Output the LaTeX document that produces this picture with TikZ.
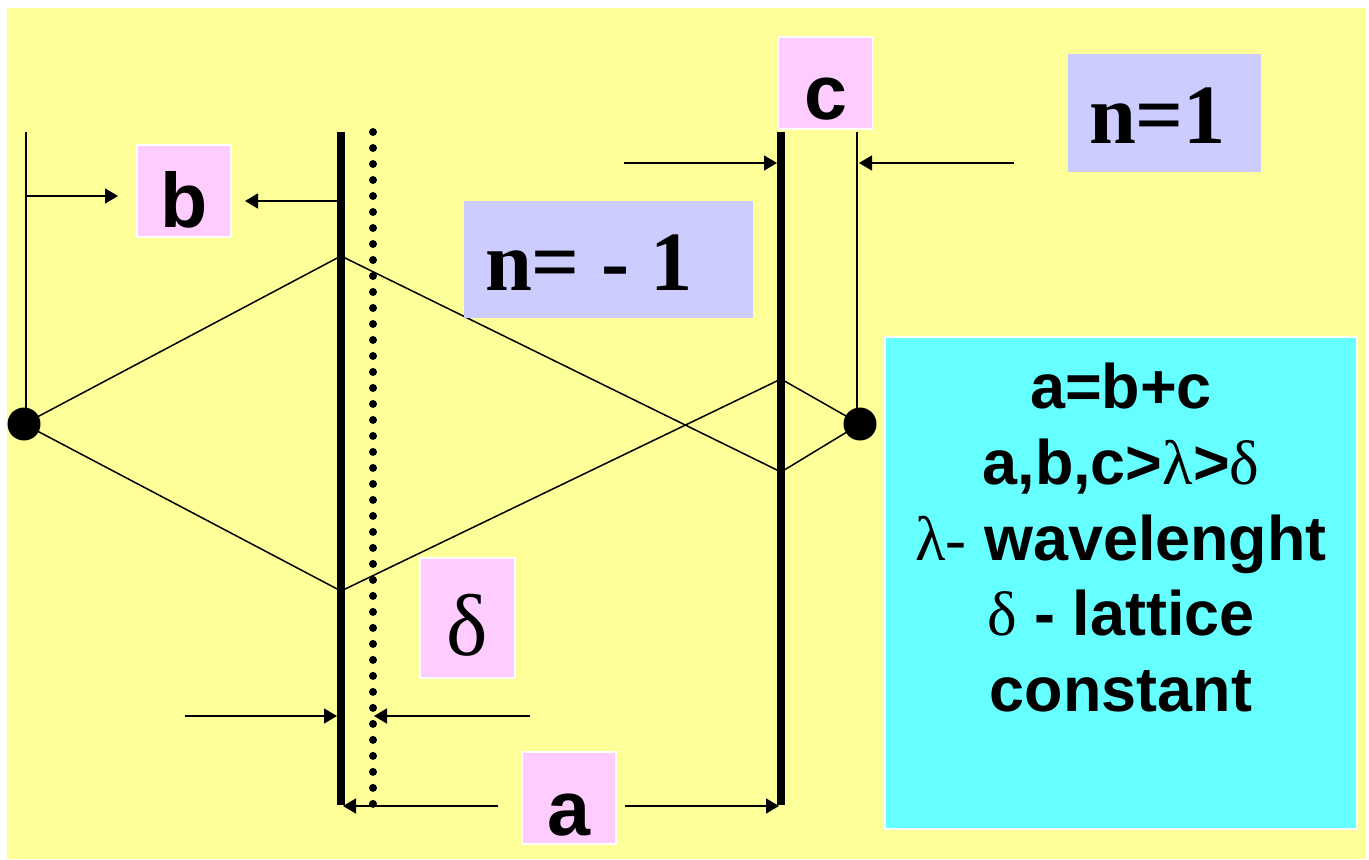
\documentclass[tikz,border=0pt]{standalone}
\usepackage{fontspec}
\setmainfont{Liberation Serif}
\newfontfamily\arial{Liberation Sans}
\usetikzlibrary{arrows.meta}

\definecolor{bgyellow}{HTML}{FFFF99}
\definecolor{boxpink}{HTML}{FFCCFF}
\definecolor{boxblue}{HTML}{CCCCFF}
\definecolor{boxcyan}{HTML}{66FFFF}

\begin{document}
\begin{tikzpicture}[x=0.02cm,y=-0.02cm,>={Triangle[length=0.26cm,width=0.3cm]},
    thin line/.style={line width=0.03cm},
    grating/.style={line width=0.16cm},
    lattice/.style={line width=0.16cm,line cap=round,dash pattern=on 0pt off 0.32cm},
    srcdot/.style={circle,fill=black,minimum size=0.66cm,inner sep=0pt},
    letterbox/.style={fill=boxpink,draw=white,line width=0.03cm,inner sep=0pt,
      minimum width=1.88cm,text height=1.66cm,text depth=0.18cm,
      font=\arial\bfseries\fontsize{44}{50}\selectfont},
    orderbox/.style={fill=boxblue,inner xsep=0.42cm,inner ysep=0pt,align=left,
      text height=1.8cm,text depth=0.56cm,font=\bfseries\fontsize{48}{54}\selectfont},
    infobox/.style={fill=boxcyan,draw=white,line width=0.03cm,
      minimum width=9.44cm,minimum height=9.84cm},
    infotext/.style={align=center,inner sep=0pt,
      font=\arial\bfseries\fontsize{35.8}{43}\selectfont}]
    \useasboundingbox (0,0) rectangle (1369,859);
    \fill[bgyellow] (7,8) rectangle (1366,859);

    % gratings and guide lines
    \coordinate (g1t) at (341,132);  \coordinate (g1b) at (341,805);
    \coordinate (lt)  at (373,132);  \coordinate (lb)  at (373,805);
    \coordinate (g2t) at (781,132);  \coordinate (g2b) at (781,805);
    \coordinate (vL)  at (26,132);   \coordinate (vR)  at (857,132);
    \coordinate (srcL) at (24,424);  \coordinate (srcR) at (860,424);

    % points where the rays meet the gratings
    \coordinate (hA) at (341,256);   \coordinate (hB) at (781,472);
    \coordinate (hC) at (341,591);   \coordinate (hD) at (781,379);

    \draw[grating] (g1t) -- (g1b);
    \draw[grating] (g2t) -- (g2b);
    \draw[lattice] (lt) -- (lb);
    \draw[thin line] (vL) -- (vL |- srcL);
    \draw[thin line] (vR) -- (vR |- srcR);

    \draw[thin line] (srcL) -- (hA) -- (hB) -- (srcR);
    \draw[thin line] (srcL) -- (hC) -- (hD) -- (srcR);

    \node[srcdot] (dotL) at (srcL) {};
    \node[srcdot] (dotR) at (srcR) {};

    % dimension arrows
    \coordinate (bA) at (26,196);   \coordinate (bB) at (118,196);
    \coordinate (bC) at (338,201);  \coordinate (bD) at (245,201);
    \coordinate (cA) at (624,163);  \coordinate (cB) at (777,163);
    \coordinate (cC) at (1014,163); \coordinate (cD) at (859,163);
    \coordinate (dA) at (185,716);  \coordinate (dB) at (337,716);
    \coordinate (dC) at (530,716);  \coordinate (dD) at (374,716);
    \coordinate (aA) at (498,806);  \coordinate (aB) at (343,806);
    \coordinate (aC) at (625,806);  \coordinate (aD) at (779,806);

    \path[->,thin line]
    (bA) edge (bB)
    (bC) edge (bD)
    (cA) edge (cB)
    (cC) edge (cD)
    (dA) edge (dB)
    (dC) edge (dD)
    (aA) edge (aB)
    (aC) edge (aD);

    % labels
    \node[letterbox] (bbox) at (184,191) {b};
    \node[letterbox] (cbox) at (825.5,83) {c};
    \node[letterbox] (abox) at (569,798) {a};
    \node[letterbox,minimum width=1.9cm,text height=1.94cm,text depth=0.46cm,
      font=\fontsize{50}{56}\selectfont] (dbox) at (467.5,618) {δ};
    \node[orderbox,text width=3.02cm] (nplus) at (1164.5,113) {n=1};
    \node[orderbox,text width=4.94cm] (nminus) at (608.5,259.5)
      {n=\hspace{0.26em}-\hspace{0.24em}1};

    \node[infobox] (info) at (1121,583) {};
    \node[infotext,anchor=north] (infotxt) at (1121,363)
      {a=b+c\\
       a,b,c>{\normalfont λ}>{\normalfont δ}\\
       {\normalfont λ-} wavelenght\\
       {\normalfont δ} - lattice\\
       constant};
\end{tikzpicture}
\end{document}
